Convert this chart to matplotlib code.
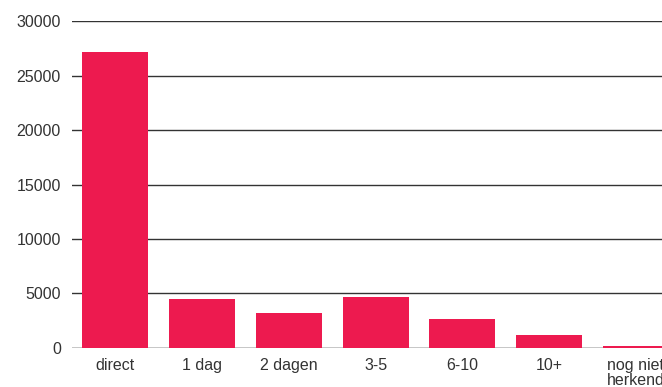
import matplotlib
matplotlib.use('Agg')
from matplotlib import pyplot as plt
import numpy as np

categories = ['direct', '1 dag', '2 dagen', '3-5', '6-10', '10+', 'nog niet\nherkend']
values = [27150, 4500, 3220, 4660, 2680, 1200, 190]
yticks = [0, 5000, 10000, 15000, 20000, 25000, 30000]

plt.rcParams['font.family'] = ['Liberation Sans', 'DejaVu Sans']

fig = plt.figure(figsize=(6.62, 3.87), dpi=100)
ax = fig.add_axes([0.1088, 0.1008, 0.917, 0.8449])

x = np.arange(len(categories))
ax.bar(x, values, width=0.76, color='#ED1A4F', zorder=3)

ax.set_xlim(-0.5, len(categories) - 0.5)
ax.set_ylim(0, 30000)
ax.set_yticks(yticks)
ax.set_yticklabels([str(v) for v in yticks])
ax.set_xticks(x)
ax.set_xticklabels(categories, linespacing=1.0)
ax.yaxis.grid(True, color='#333333', linewidth=1)
ax.tick_params(axis='both', length=0, labelsize=11.5, colors='#333333')
ax.tick_params(axis='y', pad=8)
ax.tick_params(axis='x', pad=7)
ax.axhline(0, color='#888888', linewidth=1, zorder=2)
for s in ax.spines.values():
    s.set_visible(False)

fig.savefig('out.png', dpi=100)
